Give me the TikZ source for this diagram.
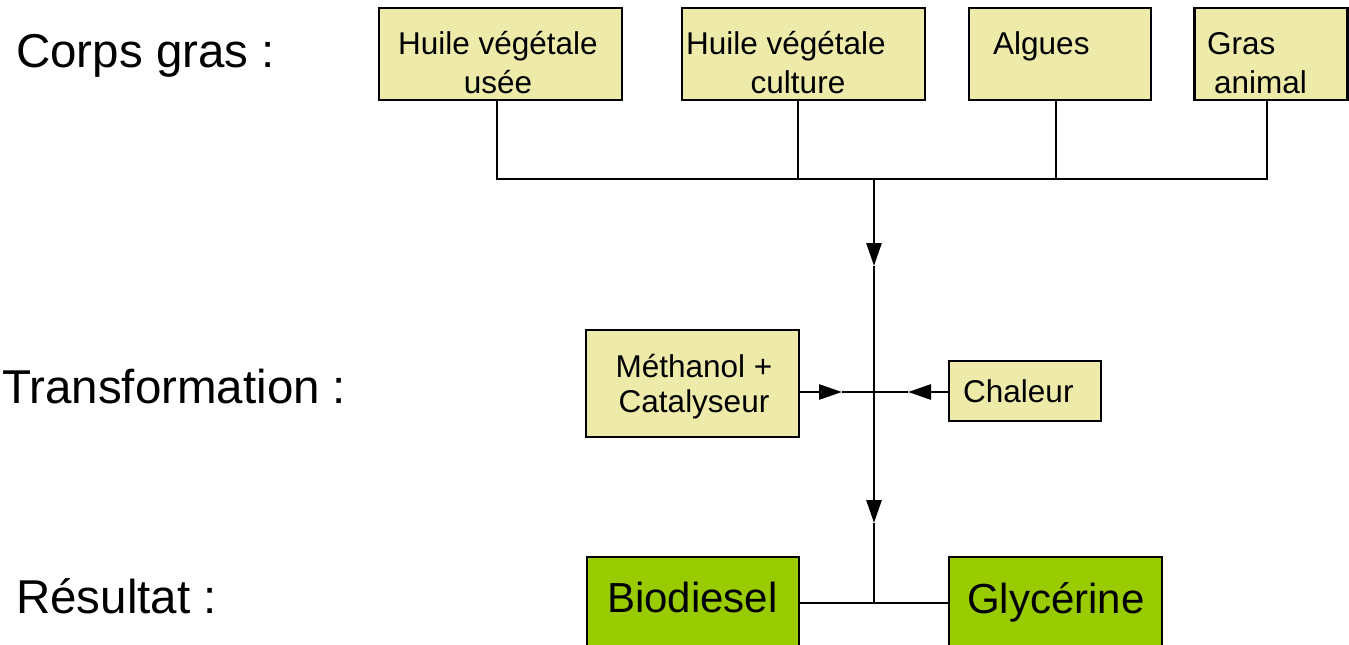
\documentclass[tikz,border=0pt]{standalone}
\usepackage{fontspec}
\setmainfont{Liberation Sans}
\usetikzlibrary{arrows.meta}
\definecolor{boxyellow}{RGB}{237,234,170}
\definecolor{boxgreen}{RGB}{153,204,0}
\tikzset{
  conn/.style={line width=2.8pt, draw=black},
  tip/.style={-{Triangle[length=23pt,width=15pt]}},
  ybox/.style={draw=black, line width=2.4pt, fill=boxyellow, inner sep=0pt},
  gbox/.style={draw=black, line width=2.4pt, fill=boxgreen, inner sep=0pt},
  lbl/.style={anchor=base west, inner sep=0pt, font=\fontsize{47.5}{55}\selectfont},
  btxt/.style={inner sep=0pt, font=\fontsize{31.5}{39}\selectfont},
  rtxt/.style={anchor=base west, inner sep=0pt, font=\fontsize{42}{50}\selectfont},
}
\begin{document}
\begin{tikzpicture}[x=1pt,y=-1pt]
\useasboundingbox (0,0) rectangle (1349,645);
\clip (0,0) rectangle (1349,645);
% left labels
\node[lbl] (lcorps) at (16,67) {Corps gras :};
\node[lbl] (ltrans) at (2,403) {Transformation :};
\node[lbl] (lres) at (16,613) {Résultat :};
% top boxes
\node[ybox, minimum width=243pt, minimum height=92pt] (b1) at (500.5,54) {};
\node[ybox, minimum width=243pt, minimum height=92pt] (b2) at (803.5,54) {};
\node[ybox, minimum width=182pt, minimum height=92pt] (b3) at (1060,54) {};
\node[ybox, minimum width=153pt, minimum height=92pt] (b4) at (1271,54) {};
\node[btxt, align=center, anchor=base] (t1) at (498,93) {Huile végétale\\usée};
\node[btxt, align=center, anchor=base] (t2) at (798,93) {Huile végétale\hspace*{24pt}\\culture};
\node[btxt, anchor=base west] (t3) at (993,54) {Algues};
\node[btxt, align=left, anchor=base west] (t4) at (1207,93) {Gras\\\hspace*{7pt}animal};
% middle boxes
\node[ybox, minimum width=213pt, minimum height=107pt] (meth) at (692.5,383.5) {};
\node[btxt, align=center, anchor=base, font=\fontsize{31.5}{35}\selectfont] (tmeth) at (694,412) {Méthanol +\\Catalyseur};
\node[ybox, minimum width=152pt, minimum height=60pt] (chal) at (1025,391) {};
\node[btxt, anchor=base west] (tchal) at (963,402) {Chaleur};
% bottom boxes
\node[gbox, minimum width=212pt, minimum height=130pt] (bio) at (693,622) {};
\node[rtxt] (tbio) at (607,612) {Biodiesel};
\node[gbox, minimum width=213pt, minimum height=130pt] (gly) at (1055.5,622) {};
\node[rtxt] (tgly) at (967,613) {Glycérine};
% coordinates
\coordinate (d1) at (497,0);
\coordinate (d2) at (798,0);
\coordinate (d3) at (1056,0);
\coordinate (d4) at (1267,0);
\coordinate (J1) at (874,179);
\coordinate (A1) at (874,266);
\coordinate (M) at (874,392);
\coordinate (A2) at (874,523);
\coordinate (J2) at (874,603);
\coordinate (A3) at (842,392);
\coordinate (A4) at (908,392);
% connectors
\draw[conn] (b1.south -| d1) |- (J1 -| d4) -- (b4.south -| d4);
\draw[conn] (b2.south -| d2) -- (J1 -| d2);
\draw[conn] (b3.south -| d3) -- (J1 -| d3);
\draw[conn, tip] (J1) -- (A1);
\draw[conn, tip] (A1) -- (A2);
\draw[conn] (A2) -- (J2);
\draw[conn, tip] (meth.east |- M) -- (A3);
\draw[conn] (A3) -- (A4);
\draw[conn, tip] (chal.west |- M) -- (A4);
\draw[conn] (bio.east |- J2) -- (gly.west |- J2);
\end{tikzpicture}
\end{document}
